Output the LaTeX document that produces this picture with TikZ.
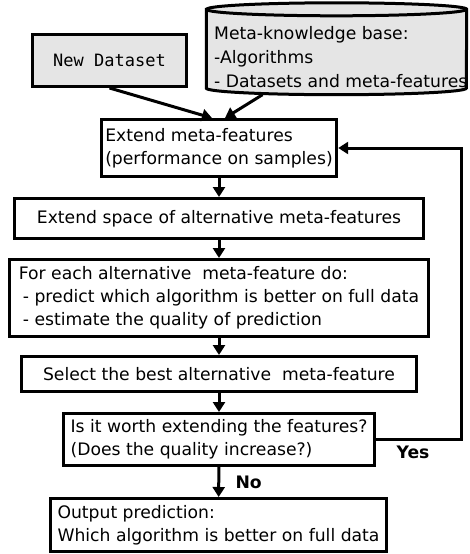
\documentclass[tikz,border=0pt]{standalone}
\usepackage{fontspec}
\setmainfont{DejaVu Sans}
\setmonofont{DejaVu Sans Mono}
\usetikzlibrary{positioning,calc,arrows.meta}

\tikzset{
  box/.style={draw, line width=3pt, inner sep=4pt, font=\fontsize{17.2}{23}\selectfont},
  graybox/.style={box, fill=gray!20},
  dbase/.style={minimum width=260pt, minimum height=91.5pt, inner sep=0pt},
  arr/.style={line width=3pt, -{Triangle[length=10pt,width=12pt]}},
  lbl/.style={font=\bfseries\fontsize{17.2}{20}\selectfont}
}

\begin{document}
\begin{tikzpicture}[x=1pt,y=-1pt]
    \useasboundingbox (0,0) rectangle (470,554);
    % inputs
    \node[graybox, minimum width=154pt, minimum height=52pt, font=\ttfamily\fontsize{17}{23}\selectfont] (nd) at (109.5,60.5) {New Dataset};
    \node[dbase] (kb) at (336.5,48.75) {};
    \draw[line width=3pt, fill=gray!20] ($(kb.north west)+(0,6.5)$) -- ($(kb.south west)+(0,-6.5)$)
        arc (180:360:130pt and 6.5pt) -- ($(kb.north east)+(0,6.5)$)
        arc (0:180:130pt and 6.5pt) -- cycle;
    \draw[line width=3pt] ($(kb.north west)+(0,6.5)$) arc (180:360:130pt and 6.5pt);
    \node[align=left, anchor=west, inner sep=0pt, font=\fontsize{17.2}{24}\selectfont] (kbtext) at (214,57) {Meta-knowledge base:\\-Algorithms\\- Datasets and meta-features};
    % main loop
    \node[box, minimum width=231pt, minimum height=57pt, align=left] (ext) at (219,148) {Extend meta-features\\(performance on samples)};
    \node[box, minimum width=409pt, minimum height=40pt] (space) at (219,218.5) {Extend space of alternative meta-features};
    \node[box, minimum width=419pt, minimum height=77pt, align=left] (each) at (219,298) {For each alternative~ meta-feature do:\\\hspace*{4pt}- predict which algorithm is better on full data\\\hspace*{4pt}- estimate the quality of prediction};
    \node[box, minimum width=395pt, minimum height=35pt] (best) at (219,374) {Select the best alternative~ meta-feature};
    \node[box, minimum width=311pt, minimum height=52pt, align=left] (ask) at (219,439.5) {Is it worth extending the features?\\(Does the quality increase?)};
    \node[box, minimum width=336pt, minimum height=53pt, align=left] (out) at (218.5,525) {Output prediction:\\Which algorithm is better on full data};
    \coordinate (back) at (461,148);
    % connectors
    \draw[arr] (nd.south) -- ([xshift=-7pt]ext.north);
    \draw[arr] ([xshift=-74pt]kb.south) -- ([xshift=6pt]ext.north);
    \draw[arr] (ext) -- (space);
    \draw[arr] (space) -- (each);
    \draw[arr] (each) -- (best);
    \draw[arr] (best) -- (ask);
    \draw[arr] (ask) -- (out) node[lbl, pos=0.5, right=12pt] {No};
    \draw[arr] (ask.east) -| (back) -- (ext.east);
    \node[lbl] (yes) at (413,452) {Yes};
\end{tikzpicture}
\end{document}
